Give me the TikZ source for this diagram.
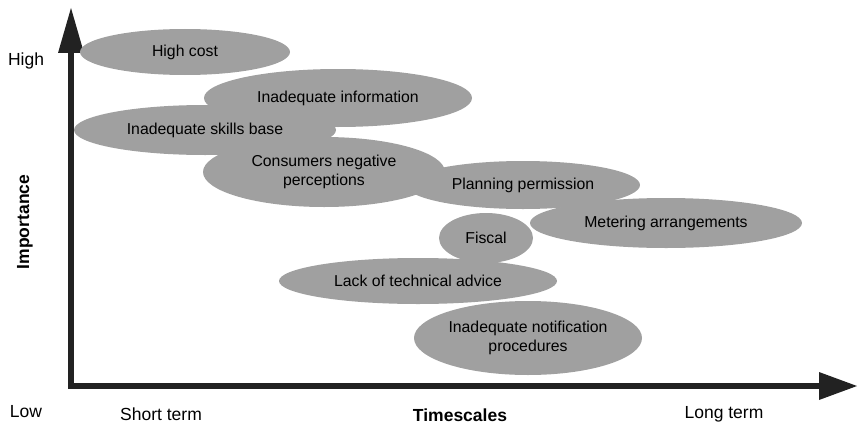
\documentclass[tikz,border=0pt]{standalone}
\usepackage{fontspec}
\setmainfont{Liberation Sans}
\usetikzlibrary{arrows.meta,shapes.geometric}

\definecolor{barriergray}{RGB}{160,160,160}
\definecolor{axisgray}{RGB}{34,34,34}

\tikzset{
  barrier/.style={ellipse, fill=barriergray, inner sep=0pt, align=center,
    font=\fontsize{15.8}{19}\selectfont},
  scalelabel/.style={font=\fontsize{17.5}{21}\selectfont},
  axistitle/.style={font=\fontsize{17.5}{21}\selectfont\bfseries},
}

\begin{document}
\begin{tikzpicture}[x=1pt,y=-1pt]
\useasboundingbox (0,0) rectangle (858,428);

% axes
\coordinate (origin) at (71,386);
\coordinate (ytip) at (71,8);
\coordinate (xtip) at (857,386);
\draw[axisgray, line width=6.5pt, line join=miter,
  {Triangle[length=45pt,width=26pt,line width=0pt]}-{Triangle[length=38pt,width=28pt,line width=0pt]}]
  (ytip) -- (origin) -- (xtip);

% barriers
\node[barrier, minimum width=210pt, minimum height=46pt] (cost) at (185,52) {High cost};
\node[barrier, minimum width=268pt, minimum height=58pt] (info) at (338,98) {Inadequate information};
\node[barrier, minimum width=262pt, minimum height=50pt] (skills) at (205,130) {Inadequate skills base};
\node[barrier, minimum width=234pt, minimum height=48pt] (planning) at (523,185) {Planning permission};
\node[barrier, minimum width=242pt, minimum height=70pt] (consumers) at (324,172) {Consumers negative\\perceptions};
\node[barrier, minimum width=272pt, minimum height=50pt] (metering) at (666,223) {Metering arrangements};
\node[barrier, minimum width=94pt, minimum height=50pt] (fiscal) at (486,238) {Fiscal};
\node[barrier, minimum width=278pt, minimum height=46pt] (advice) at (418,281) {Lack of technical advice};
\node[barrier, minimum width=228pt, minimum height=74pt] (notification) at (528,338) {Inadequate notification\\procedures};

% axis labels
\node[scalelabel] (high) at (26,61) {High};
\node[scalelabel] (low) at (26,412) {Low};
\node[axistitle, rotate=90] (importance) at (25,222) {Importance};
\node[scalelabel] (short) at (161,414) {Short term};
\node[axistitle] (timescales) at (460,415) {Timescales};
\node[scalelabel] (long) at (724,414) {Long term};
\end{tikzpicture}
\end{document}
